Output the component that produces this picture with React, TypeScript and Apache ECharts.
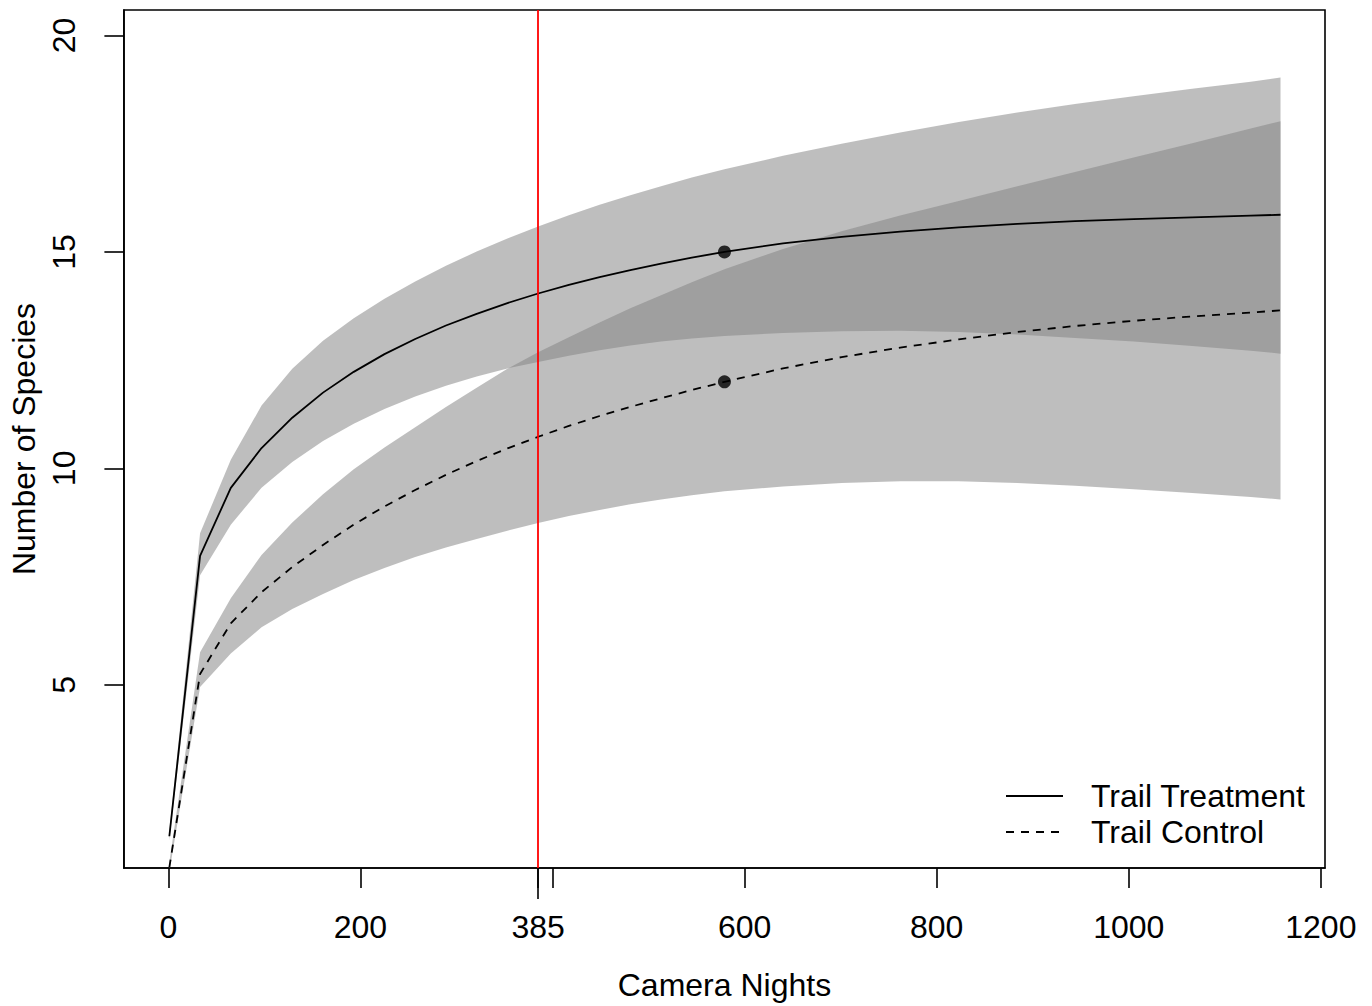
import React, { useEffect, useRef } from "react";
import * as echarts from "echarts";

// Sample sizes (camera nights) at which the curves were evaluated
const cameraNights = [1, 33, 65, 97, 129, 161, 193, 225, 257, 289, 321, 353, 385, 417, 449, 481, 513, 545, 579, 640, 701, 762, 823, 884, 944, 1005, 1066, 1127, 1158];

// Trail Treatment: estimate and confidence band
const treatmentEst = [1.5, 7.98, 9.55, 10.47, 11.17, 11.75, 12.23, 12.64, 12.99, 13.3, 13.57, 13.82, 14.04, 14.24, 14.42, 14.58, 14.73, 14.87, 15.0, 15.2, 15.35, 15.47, 15.57, 15.65, 15.71, 15.76, 15.8, 15.84, 15.86];
const treatmentLow = [1.4, 7.53, 8.7, 9.55, 10.15, 10.63, 11.03, 11.37, 11.66, 11.91, 12.12, 12.31, 12.46, 12.6, 12.73, 12.84, 12.93, 13.0, 13.06, 13.13, 13.17, 13.18, 13.15, 13.09, 13.01, 12.93, 12.83, 12.72, 12.65];
const treatmentHigh = [1.62, 8.5, 10.2, 11.45, 12.3, 12.95, 13.47, 13.92, 14.32, 14.68, 15.01, 15.31, 15.59, 15.85, 16.09, 16.31, 16.52, 16.72, 16.91, 17.22, 17.5, 17.76, 18.0, 18.22, 18.42, 18.6, 18.77, 18.93, 19.03];

// Trail Control: estimate and confidence band
const controlEst = [0.78, 5.25, 6.42, 7.14, 7.72, 8.23, 8.7, 9.12, 9.5, 9.85, 10.17, 10.46, 10.73, 10.98, 11.21, 11.42, 11.62, 11.81, 12.0, 12.31, 12.57, 12.79, 12.98, 13.15, 13.29, 13.41, 13.51, 13.6, 13.65];
const controlLow = [0.68, 4.95, 5.72, 6.33, 6.75, 7.1, 7.42, 7.7, 7.95, 8.17, 8.37, 8.56, 8.74, 8.9, 9.04, 9.17, 9.28, 9.38, 9.47, 9.58, 9.66, 9.7, 9.7, 9.66, 9.6, 9.52, 9.43, 9.34, 9.28];
const controlHigh = [0.9, 5.75, 7.0, 8.0, 8.75, 9.4, 9.98, 10.48, 10.95, 11.42, 11.86, 12.3, 12.68, 13.03, 13.37, 13.7, 14.0, 14.3, 14.6, 15.07, 15.48, 15.84, 16.18, 16.52, 16.85, 17.18, 17.51, 17.85, 18.02];

// Observed (reference) sample points
const observedX = [579, 579];
const observedY = [15.0, 12.0];

// Vertical reference line
const referenceNights = 385;

// Axis ticks
const xTickValues = [0, 200, 385, 400, 600, 800, 1000, 1200];
const xLabelValues = [0, 200, 385, 600, 800, 1000, 1200];
const yTickValues = [5, 10, 15, 20];

const seriesNames = ["Trail Treatment", "Trail Control"];

const FONT = "Liberation Sans, Arial, sans-serif";
const FONT_SIZE = 32;
const BAND_FILL = "rgba(131,131,131,0.52)";

function bandSeries(low: number[], high: number[]) {
  return {
    type: "custom",
    coordinateSystem: "cartesian2d",
    clip: true,
    silent: true,
    z: 1,
    encode: { x: 0, y: [1, 2] },
    data: cameraNights.map((x, i) => [x, low[i], high[i]]),
    renderItem: (params: any, api: any) => {
      if (params.dataIndex !== 0) return null;
      const pts: number[][] = [];
      for (let i = 0; i < cameraNights.length; i++) pts.push(api.coord([cameraNights[i], high[i]]));
      for (let i = cameraNights.length - 1; i >= 0; i--) pts.push(api.coord([cameraNights[i], low[i]]));
      return {
        type: "polygon",
        shape: { points: pts },
        style: { fill: BAND_FILL, stroke: null },
      };
    },
  };
}

export default function App() {
  const ref = useRef<HTMLDivElement>(null);
  useEffect(() => {
    if (!ref.current) return;
    const chart = echarts.init(ref.current, undefined, { renderer: "svg" });
    const option: any = {
      animation: false,
      backgroundColor: "#ffffff",
      textStyle: { fontFamily: FONT },
      grid: {
        left: 121,
        right: 47,
        top: 10,
        bottom: 134,
        show: true,
        borderColor: "#000",
        borderWidth: 1.6,
        backgroundColor: "transparent",
      },
      legend: {
        show: true,
        data: seriesNames,
        orient: "vertical",
        left: 1005,
        top: 780,
        padding: 0,
        itemWidth: 57,
        itemHeight: 14,
        itemGap: 4,
        selectedMode: false,
        itemStyle: { color: "rgba(0,0,0,0)", borderColor: "rgba(0,0,0,0)", borderWidth: 0, opacity: 0 },
        textStyle: {
          fontFamily: FONT,
          fontSize: FONT_SIZE,
          color: "#000",
          padding: [0, 0, 0, 23],
        },
      },
      xAxis: [
        {
          type: "value",
          min: -46.32,
          max: 1204.32,
          name: "Camera Nights",
          nameLocation: "middle",
          nameGap: 101,
          nameTextStyle: { fontFamily: FONT, fontSize: FONT_SIZE, color: "#000" },
          axisLine: { show: true, onZero: false, lineStyle: { color: "#000", width: 1.6 } },
          axisTick: { show: true, length: 20, customValues: xTickValues, lineStyle: { color: "#000", width: 1.6 } },
          axisLabel: {
            show: true,
            customValues: xLabelValues,
            margin: 43,
            fontFamily: FONT,
            fontSize: FONT_SIZE,
            color: "#000",
            formatter: (v: number) => String(v),
          },
          splitLine: { show: false },
        },
        {
          type: "value",
          min: -46.32,
          max: 1204.32,
          position: "bottom",
          axisLine: { show: false },
          axisTick: { show: true, length: 31, customValues: [referenceNights], lineStyle: { color: "#000", width: 1.6 } },
          axisLabel: { show: false },
          splitLine: { show: false },
        },
      ],
      yAxis: {
        type: "value",
        min: 0.767,
        max: 20.59,
        name: "Number of Species",
        nameLocation: "middle",
        nameRotate: 90,
        nameGap: 81,
        nameTextStyle: { fontFamily: FONT, fontSize: FONT_SIZE, color: "#000" },
        axisLine: { show: true, onZero: false, lineStyle: { color: "#000", width: 1.6 } },
        axisTick: { show: true, length: 19.5, customValues: yTickValues, lineStyle: { color: "#000", width: 1.6 } },
        axisLabel: {
          show: true,
          customValues: yTickValues,
          rotate: 90,
          margin: 44,
          fontFamily: FONT,
          fontSize: FONT_SIZE,
          color: "#000",
          formatter: (v: number) => String(v),
        },
        splitLine: { show: false },
      },
      series: [
        bandSeries(treatmentLow, treatmentHigh),
        bandSeries(controlLow, controlHigh),
        {
          name: seriesNames[0],
          type: "line",
          z: 3,
          clip: true,
          symbol: "none",
          showSymbol: false,
          color: "#000",
          lineStyle: { color: "#000", width: 1.8, type: "solid" },
          data: cameraNights.map((x, i) => [x, treatmentEst[i]]),
        },
        {
          name: seriesNames[1],
          type: "line",
          z: 3,
          clip: true,
          symbol: "none",
          showSymbol: false,
          color: "#000",
          lineStyle: { color: "#000", width: 1.8, type: [8, 7] },
          data: cameraNights.map((x, i) => [x, controlEst[i]]),
        },
        {
          name: "Observed",
          type: "scatter",
          z: 4,
          symbol: "circle",
          symbolSize: 13,
          itemStyle: { color: "#000" },
          data: observedX.map((x, i) => [x, observedY[i]]),
          markLine: {
            silent: true,
            symbol: ["none", "none"],
            label: { show: false },
            lineStyle: { color: "#ff0000", width: 1.8, type: "solid" },
            data: [{ xAxis: referenceNights }],
          },
        },
      ],
    };
    chart.setOption(option);
    return () => chart.dispose();
  }, []);
  return (
    <div
      ref={ref}
      style={{ position: "absolute", left: 0, top: 0, width: 1372, height: 1006 }}
    />
  );
}
